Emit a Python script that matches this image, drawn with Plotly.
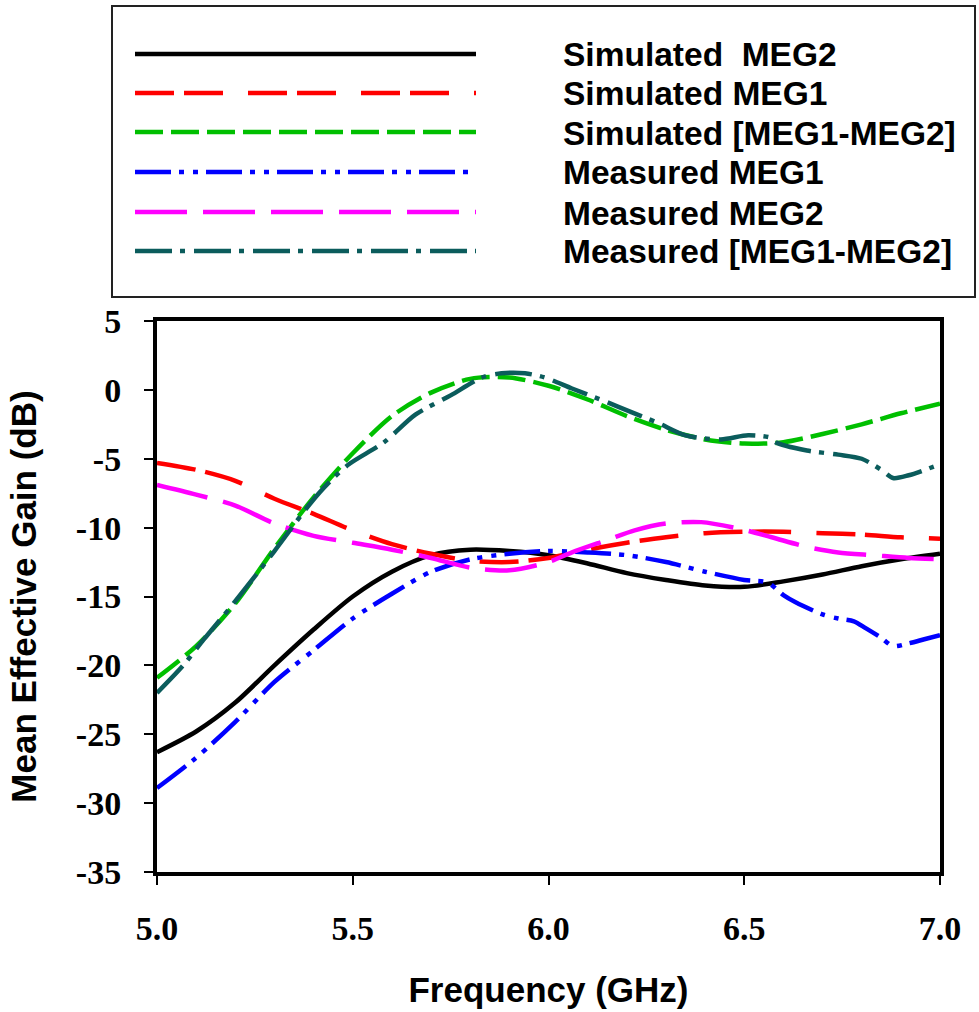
import plotly.graph_objects as go

# ---------------- data ----------------
freq_sim = [5.0, 5.1, 5.2, 5.3, 5.4, 5.5, 5.6, 5.7, 5.8, 5.9, 6.0,
            6.1, 6.2, 6.3, 6.4, 6.5, 6.6, 6.7, 6.8, 6.9, 7.0]

sim_meg2 = [-26.3, -24.8, -22.7, -20.0, -17.4, -15.0, -13.2, -12.0, -11.6, -11.7, -12.0,
            -12.6, -13.3, -13.8, -14.2, -14.3, -13.9, -13.4, -12.8, -12.3, -11.9]

sim_meg1 = [-5.3, -5.8, -6.6, -7.9, -9.0, -10.2, -11.2, -11.9, -12.4, -12.5, -12.2,
            -11.6, -11.1, -10.7, -10.4, -10.3, -10.3, -10.4, -10.5, -10.7, -10.8]

sim_diff = [-20.9, -18.6, -15.5, -11.5, -7.8, -4.6, -1.9, -0.2, 0.8, 0.9, 0.3,
            -0.7, -1.9, -2.9, -3.6, -3.9, -3.8, -3.2, -2.5, -1.7, -1.0]

freq_meas_meg1 = [5.0, 5.1, 5.2, 5.3, 5.4, 5.5, 5.6, 5.7, 5.8, 5.9, 6.0, 6.1, 6.2,
                  6.3, 6.4, 6.5, 6.56, 6.6, 6.63, 6.7, 6.74, 6.78, 6.81, 6.85,
                  6.88, 6.92, 6.96, 7.0]
meas_meg1 = [-28.9, -26.7, -24.1, -21.2, -18.9, -16.6, -14.8, -13.2, -12.3, -11.9, -11.7,
             -11.8, -12.0, -12.5, -13.2, -13.8, -14.0, -14.9, -15.4, -16.3, -16.6,
             -16.8, -17.3, -18.0, -18.6, -18.4, -18.1, -17.8]

freq_meas_meg2 = [5.0, 5.1, 5.2, 5.3, 5.4, 5.5, 5.6, 5.7, 5.8, 5.9, 6.0, 6.06, 6.15,
                  6.22, 6.3, 6.39, 6.49, 6.57, 6.66, 6.74, 6.83, 6.92, 7.0]
meas_meg2 = [-6.9, -7.6, -8.4, -9.7, -10.6, -11.1, -11.6, -12.2, -12.9, -13.1, -12.5,
             -11.8, -10.9, -10.2, -9.7, -9.6, -10.1, -10.7, -11.4, -11.8, -12.0,
             -12.2, -12.3]

freq_meas_diff = [5.0, 5.067, 5.12, 5.19, 5.3, 5.39, 5.44, 5.49, 5.58, 5.66, 5.75,
                  5.83, 5.88, 5.94, 5.99, 6.06, 6.15, 6.21, 6.28, 6.35, 6.44,
                  6.51, 6.57, 6.58, 6.66, 6.74, 6.8, 6.85, 6.88, 6.92, 7.0]
meas_diff = [-22.0, -20.0, -18.1, -15.7, -11.7, -8.3, -6.7, -5.4, -3.8, -1.8, -0.4,
             0.9, 1.2, 1.2, 0.9, 0.1, -0.9, -1.6, -2.4, -3.3, -3.6,
             -3.3, -3.5, -3.8, -4.4, -4.7, -5.0, -5.8, -6.4, -6.2, -5.4]

x_ticks = [5.0, 5.5, 6.0, 6.5, 7.0]
y_ticks = [5, 0, -5, -10, -15, -20, -25, -30, -35]

series = [
    ("Simulated\u00a0 MEG2", freq_sim, sim_meg2, "#000000", "solid"),
    ("Simulated MEG1", freq_sim, sim_meg1, "#FF0000", "39px,10px,39px,25px"),
    ("Simulated [MEG1-MEG2]", freq_sim, sim_diff, "#00BF00", "28px,8px"),
    ("Measured MEG1", freq_meas_meg1, meas_meg1, "#0000FF", "36px,8px,5px,9px,5px,8px"),
    ("Measured MEG2", freq_meas_meg2, meas_meg2, "#FF00FF", "52px,16px"),
    ("Measured [MEG1-MEG2]", freq_meas_diff, meas_diff, "#0B5C5C", "37px,8px,5px,9px"),
]

# ---------------- figure geometry (page pixels) ----------------
W, H = 979, 1012
PLOT_L, PLOT_R, PLOT_T, PLOT_B = 157, 940, 321, 872
ML, MR, MT, MB = PLOT_L, W - PLOT_R, PLOT_T, H - PLOT_B
PW, PH = W - ML - MR, H - MT - MB


def px_x(p):
    return (p - ML) / PW


def px_y(p):
    return (H - MB - p) / PH


fig = go.Figure()
for name, xs, ys, color, dash in series:
    fig.add_trace(go.Scatter(
        x=xs, y=ys, mode="lines", name=name, showlegend=False,
        line=dict(color=color, width=4.5, dash=dash, shape="spline", smoothing=0.8),
    ))

# manual legend (long line samples like the reference)
shapes = [dict(type="rect", xref="paper", yref="paper",
               x0=px_x(112), x1=px_x(975), y0=px_y(297), y1=px_y(6),
               line=dict(color="#222222", width=2), fillcolor="white", layer="below")]
annotations = []
legend_rows = [54, 93, 132, 172, 212, 251]
for (name, xs, ys, color, dash), ry in zip(series, legend_rows):
    shapes.append(dict(type="line", xref="paper", yref="paper",
                       x0=px_x(135), x1=px_x(476), y0=px_y(ry), y1=px_y(ry),
                       line=dict(color=color, width=4.5, dash=dash)))
    annotations.append(dict(xref="paper", yref="paper", x=px_x(561), y=px_y(ry + 1),
                            xanchor="left", yanchor="middle", showarrow=False,
                            text=name,
                            font=dict(family="Liberation Sans, Arial, sans-serif",
                                      size=33.5, color="black", weight="bold")))

tick_font = dict(family="Liberation Serif, Times New Roman, serif", size=34,
                 color="black", weight="bold")
title_font = dict(family="Liberation Sans, Arial, sans-serif", size=35,
                  color="black", weight="bold")

fig.update_layout(
    width=W, height=H,
    margin=dict(l=ML, r=MR, t=MT, b=MB, autoexpand=False),
    paper_bgcolor="white", plot_bgcolor="white",
    shapes=shapes, annotations=annotations,
    showlegend=False,
)
fig.update_xaxes(
    range=[5.0, 7.0], tickvals=x_ticks, ticktext=[f"{v:.1f}" for v in x_ticks],
    ticks="outside", ticklen=9, tickwidth=2, tickcolor="black",
    showline=True, linewidth=4, linecolor="black", mirror=True,
    showgrid=False, zeroline=False, tickfont=tick_font, ticklabelstandoff=14,
    title=dict(text="Frequency (GHz)", font=title_font, standoff=33),
)
fig.update_yaxes(
    range=[-35, 5], tickvals=y_ticks, ticktext=[str(v) for v in y_ticks],
    ticks="outside", ticklen=9, tickwidth=2, tickcolor="black",
    showline=True, linewidth=4, linecolor="black", mirror=True,
    showgrid=False, zeroline=False, tickfont=tick_font, ticklabelstandoff=16,
    title=dict(text="Mean Effective Gain (dB)", font=title_font, standoff=30),
)

fig.write_html(
    "out.html",
    config={"displayModeBar": False},
    post_script="document.body.style.margin='0';document.body.style.overflow='hidden';",
)
